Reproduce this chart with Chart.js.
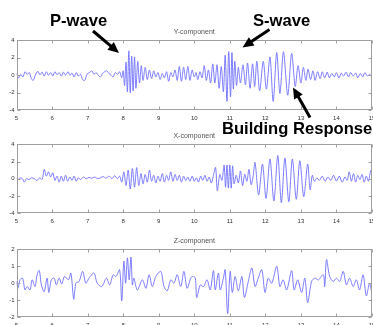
<!DOCTYPE html>
<html>
<head>
<meta charset="utf-8">
<script src="https://cdn.jsdelivr.net/npm/chart.js@4.4.1/dist/chart.umd.min.js"></script>
<style>
  html, body { margin: 0; padding: 0; overflow: hidden; background: #fff; }
  #wrap { position: relative; width: 373px; height: 325px; overflow: hidden; }
  #wrap canvas { position: absolute; left: 0; }
  #notes { position: absolute; left: 0; top: 0; }
</style>
</head>
<body>
<div id="wrap">
  <canvas id="cY" width="373" height="124" style="top:0"></canvas>
  <canvas id="cX" width="373" height="103" style="top:124px"></canvas>
  <canvas id="cZ" width="373" height="104" style="top:227px"></canvas>
  <svg id="notes" width="373" height="325"></svg>
</div>
<script>
// ---- data (time in s, amplitude) ----
const timeTicks = [5, 6, 7, 8, 9, 10, 11, 12, 13, 14, 15];
const ampTicks  = [-4, -2, 0, 2, 4];
const zTicks    = [-2, -1, 0, 1, 2];
const titles    = ['Y-component', 'X-component', 'Z-component'];

const tY = [5.00,5.06,5.12,5.18,5.24,5.30,5.36,5.42,5.47,5.53,5.60,5.66,5.72,5.78,5.84,5.90,5.96,6.02,6.08,6.14,
  6.20,6.26,6.32,6.38,6.45,6.50,6.56,6.62,6.68,6.74,6.80,6.86,6.92,6.98,7.05,7.12,7.18,7.24,7.30,7.36,
  7.42,7.48,7.54,7.60,7.66,7.72,7.78,7.84,7.90,7.96,8.00,8.04,8.08,8.12,8.16,8.20,8.24,8.28,8.32,8.36,
  8.41,8.46,8.51,8.56,8.62,8.68,8.74,8.80,8.86,8.92,8.98,9.04,9.10,9.16,9.22,9.28,9.34,9.40,9.46,9.52,
  9.58,9.64,9.70,9.76,9.82,9.88,9.94,10.00,10.05,10.10,10.16,10.22,10.28,10.34,10.40,10.46,10.52,10.58,10.64,10.70,
  10.76,10.82,10.87,10.92,10.97,11.02,11.06,11.10,11.14,11.19,11.24,11.30,11.37,11.44,11.50,11.57,11.64,11.70,11.76,11.84,
  11.94,12.03,12.13,12.22,12.32,12.41,12.51,12.63,12.74,12.84,12.92,13.00,13.07,13.14,13.20,13.27,13.34,13.40,13.47,13.54,
  13.60,13.67,13.74,13.80,13.87,13.94,14.00,14.07,14.14,14.20,14.27,14.34,14.40,14.47,14.54,14.60,14.67,14.74,14.80,14.87,
  14.94,15.00];
const vY = [0.2,-0.3,0.1,-0.2,0.4,0.1,0.3,-0.4,-0.6,0.0,0.45,0.05,0.35,-0.1,0.4,0.0,0.3,-0.1,0.4,0.05,
  0.3,-0.1,0.35,0.0,0.4,0.0,0.25,-0.2,0.3,-0.1,0.1,-0.5,-0.6,0.1,0.3,0.5,0.1,0.3,0.0,-0.2,
  0.2,0.4,0.5,0.2,0.0,-0.2,0.3,0.1,0.4,-0.3,0.5,-1.2,1.5,-1.9,2.8,-2.0,2.2,-1.8,2.1,-1.5,
  1.6,-0.9,1.1,-0.6,0.9,-0.5,0.6,-0.4,0.5,-0.2,0.3,-0.5,0.2,-0.3,0.4,-0.7,0.3,-0.2,0.6,-0.6,
  1.0,-0.7,0.9,-0.5,1.0,-0.6,0.6,-0.2,0.3,-0.5,0.4,-0.3,1.1,-0.6,0.6,-0.9,1.3,-0.9,1.2,-1.5,
  1.0,-1.9,2.3,-3.0,2.7,-2.5,2.6,-1.6,1.6,-1.2,0.9,-0.9,1.2,-1.1,1.4,-1.5,1.3,-1.3,1.6,-1.8,
  1.6,-1.6,2.1,-3.0,2.6,-2.1,2.7,-2.3,2.5,-1.3,1.1,-0.9,0.9,-0.6,0.7,-0.5,0.5,-0.6,0.4,-0.4,
  0.4,-0.3,0.35,-0.3,0.2,-0.2,0.3,-0.3,0.25,-0.1,0.35,-0.2,0.3,-0.1,0.25,-0.3,0.2,-0.2,0.3,-0.1,
  0.1,-0.3];

const tX = [5.00,5.05,5.10,5.17,5.22,5.28,5.35,5.42,5.50,5.58,5.65,5.72,5.78,5.84,5.90,5.96,6.02,6.08,6.14,6.20,
  6.26,6.32,6.38,6.44,6.50,6.56,6.62,6.68,6.74,6.80,6.88,6.96,7.04,7.12,7.20,7.28,7.36,7.44,7.52,7.60,
  7.68,7.76,7.84,7.90,7.96,8.02,8.08,8.14,8.20,8.26,8.32,8.38,8.44,8.50,8.56,8.62,8.68,8.74,8.80,8.86,
  8.92,8.98,9.04,9.10,9.16,9.22,9.28,9.34,9.40,9.46,9.52,9.58,9.64,9.70,9.76,9.82,9.88,9.94,10.00,10.06,
  10.12,10.18,10.24,10.30,10.36,10.42,10.48,10.54,10.60,10.65,10.72,10.78,10.84,10.88,10.92,10.96,11.00,11.04,11.08,11.12,
  11.18,11.24,11.30,11.36,11.42,11.48,11.54,11.60,11.66,11.71,11.81,11.92,12.02,12.13,12.24,12.35,12.45,12.55,12.66,12.76,
  12.87,12.97,13.08,13.19,13.26,13.32,13.38,13.45,13.52,13.60,13.68,13.76,13.84,13.92,14.00,14.08,14.16,14.24,14.30,14.36,
  14.42,14.48,14.54,14.60,14.66,14.72,14.78,14.84,14.90,14.96,15.00];
const vX = [0.1,-0.1,0.1,0.0,-0.4,0.0,-0.1,0.1,0.0,-0.2,0.1,-0.1,1.1,0.3,0.8,0.2,0.7,-0.2,0.3,-0.4,
  0.3,-0.3,0.4,-0.3,0.2,-0.2,0.3,-0.3,0.1,-0.1,0.2,0.0,0.15,0.05,0.2,0.0,0.1,0.25,0.05,0.3,
  0.0,0.35,0.0,0.3,-0.4,0.8,-0.8,1.0,-1.2,1.2,-1.0,1.3,-0.8,0.6,-0.6,0.5,-0.4,1.0,-0.3,0.4,
  -0.5,0.3,-0.3,0.6,-0.4,0.4,-0.2,0.8,-0.3,0.5,-0.2,0.4,-0.4,0.3,-0.2,0.2,-0.3,0.3,-0.3,0.1,
  -0.4,0.3,-0.2,0.4,-0.3,0.2,-0.5,0.4,1.3,-1.4,0.5,-0.2,1.6,-1.0,1.6,-1.1,1.6,-1.1,1.5,-0.6,
  0.4,-0.5,0.9,-0.8,0.5,-0.3,1.1,-0.7,0.4,1.9,-1.9,1.7,-2.3,2.3,-2.6,2.7,-2.8,2.4,-2.7,2.3,
  -2.4,2.1,-2.1,1.7,-1.3,0.4,-0.3,0.1,-0.2,0.3,-0.3,0.2,-0.2,0.4,-0.3,0.3,-0.4,0.2,-0.2,0.8,
  -0.3,0.6,-0.4,0.4,-0.1,0.5,-0.4,0.3,-0.3,0.9,1.1];

const tZ = [5.00,5.04,5.10,5.17,5.24,5.30,5.38,5.44,5.52,5.58,5.64,5.70,5.78,5.86,5.91,5.98,6.06,6.12,6.20,6.27,
  6.35,6.46,6.53,6.61,6.67,6.76,6.86,6.95,7.04,7.18,7.27,7.40,7.53,7.62,7.72,7.80,7.90,7.96,8.02,8.07,
  8.12,8.17,8.22,8.26,8.30,8.40,8.54,8.64,8.73,8.82,8.92,9.06,9.15,9.24,9.34,9.43,9.52,9.62,9.71,9.80,
  9.90,9.96,10.03,10.07,10.17,10.26,10.36,10.45,10.54,10.59,10.68,10.73,10.82,10.87,10.94,11.01,11.07,11.15,11.24,11.34,
  11.41,11.52,11.62,11.71,11.80,11.90,11.99,12.08,12.18,12.32,12.41,12.50,12.60,12.74,12.81,12.91,13.02,13.11,13.19,13.30,
  13.39,13.49,13.63,13.67,13.72,13.81,13.91,14.00,14.09,14.19,14.28,14.37,14.47,14.56,14.65,14.75,14.84,14.93,15.00];
const vZ = [0.1,-0.3,0.2,0.3,-0.4,-0.2,-0.4,0.2,-0.2,0.5,0.75,-0.1,-0.5,0.3,-0.55,0.2,0.3,-0.1,0.3,-0.05,
  0.4,0.2,0.6,-0.95,0.0,0.1,0.7,0.0,0.3,0.6,0.0,-0.2,0.3,-0.1,0.5,0.4,0.8,-1.05,1.3,0.0,
  1.5,0.2,1.55,-0.1,0.3,-0.4,0.2,-0.3,0.5,-0.2,0.4,0.7,-0.2,-0.45,0.2,0.0,0.5,-0.2,0.7,-0.3,
  0.3,0.4,0.3,-0.85,-0.1,-0.2,0.2,-0.4,0.75,-0.4,0.6,-0.4,0.3,0.8,-1.8,0.7,-0.55,0.4,-0.45,0.4,
  -0.85,0.1,0.9,-0.2,0.3,0.8,-0.55,0.3,0.0,1.0,-0.2,0.2,-0.4,0.75,-0.4,0.2,-0.55,0.3,-1.15,0.1,
  0.3,0.2,0.5,-0.2,1.4,0.4,0.1,0.3,0.1,0.7,-0.1,0.3,-0.2,0.2,-0.4,0.5,-0.75,0.0,-0.65];

// ---- MATLAB-style box with inward ticks ----
const matlabBox = {
  id: 'matlabBox',
  afterDraw(chart) {
    const { ctx, chartArea: a, scales: { x, y } } = chart;
    ctx.save();
    ctx.strokeStyle = '#a0a0a0';
    ctx.lineWidth = 1;
    const L = Math.round(a.left) + 0.5, R = Math.round(a.right) - 0.5;
    const T = Math.round(a.top) + 0.5, B = Math.round(a.bottom) - 0.5;
    ctx.strokeRect(L, T, R - L, B - T);
    ctx.beginPath();
    x.ticks.forEach(t => {
      const px = Math.round(x.getPixelForValue(t.value)) + 0.5;
      ctx.moveTo(px, T); ctx.lineTo(px, T + 3);
      ctx.moveTo(px, B); ctx.lineTo(px, B - 3);
    });
    y.ticks.forEach(t => {
      const py = Math.round(y.getPixelForValue(t.value)) + 0.5;
      ctx.moveTo(L, py); ctx.lineTo(L + 3, py);
      ctx.moveTo(R, py); ctx.lineTo(R - 3, py);
    });
    ctx.stroke();
    ctx.restore();
  }
};

const FONT = "'Liberation Sans', Arial, sans-serif";

function makeChart(id, title, times, values, yTicks, padTop) {
  const pts = times.map((t, i) => ({ x: t, y: values[i] }));
  return new Chart(document.getElementById(id), {
    type: 'line',
    data: {
      datasets: [{
        data: pts,
        borderColor: '#6e6eff',
        borderWidth: 0.9,
        pointRadius: 0,
        tension: 0.3,
        fill: false
      }]
    },
    options: {
      responsive: false,
      animation: false,
      events: [],
      layout: { padding: { top: padTop, right: 1, left: 0, bottom: 0 } },
      plugins: {
        legend: { display: false },
        tooltip: { enabled: false },
        title: {
          display: true,
          text: title,
          fullSize: false,
          color: '#555',
          font: { family: FONT, size: 7, weight: 'normal' },
          padding: { top: 0, bottom: 4 }
        }
      },
      scales: {
        x: {
          type: 'linear',
          min: timeTicks[0],
          max: timeTicks[timeTicks.length - 1],
          afterBuildTicks: s => { s.ticks = timeTicks.map(v => ({ value: v })); },
          afterFit: s => { s.height = 14; s.paddingLeft = 0; s.paddingRight = 0; },
          ticks: { color: '#333', font: { family: FONT, size: 6 }, padding: 4.5, maxRotation: 0, autoSkip: false },
          grid: { display: false, drawTicks: false },
          border: { display: false }
        },
        y: {
          min: yTicks[0],
          max: yTicks[yTicks.length - 1],
          afterBuildTicks: s => { s.ticks = yTicks.map(v => ({ value: v })); },
          afterFit: s => { s.width = 16.5; s.paddingTop = 0; s.paddingBottom = 0; },
          ticks: { color: '#333', font: { family: FONT, size: 6 }, padding: 2, autoSkip: false },
          grid: { display: false, drawTicks: false },
          border: { display: false }
        }
      }
    },
    plugins: [matlabBox]
  });
}

makeChart('cY', titles[0], tY, vY, ampTicks, 28);
makeChart('cX', titles[1], tX, vX, ampTicks, 8);
makeChart('cZ', titles[2], tZ, vZ, zTicks, 10);

// ---- annotations ----
const svg = document.getElementById('notes');
const NS = 'http://www.w3.org/2000/svg';

function label(txt, x, y) {
  const t = document.createElementNS(NS, 'text');
  t.setAttribute('x', x);
  t.setAttribute('y', y);
  t.setAttribute('font-family', FONT);
  t.setAttribute('font-weight', 'bold');
  t.setAttribute('font-size', '16.6');
  t.setAttribute('fill', '#000');
  t.textContent = txt;
  svg.appendChild(t);
}

function arrow(x1, y1, x2, y2) {
  const dx = x2 - x1, dy = y2 - y1, len = Math.hypot(dx, dy);
  const ux = dx / len, uy = dy / len, hl = 11, hw = 5;
  const bx = x2 - ux * hl, by = y2 - uy * hl;
  const ln = document.createElementNS(NS, 'line');
  ln.setAttribute('x1', x1); ln.setAttribute('y1', y1);
  ln.setAttribute('x2', bx + ux * 2); ln.setAttribute('y2', by + uy * 2);
  ln.setAttribute('stroke', '#000'); ln.setAttribute('stroke-width', 3);
  svg.appendChild(ln);
  const p = document.createElementNS(NS, 'polygon');
  p.setAttribute('points', [
    [x2, y2],
    [bx - uy * hw, by + ux * hw],
    [bx + uy * hw, by - ux * hw]
  ].map(q => q.join(',')).join(' '));
  p.setAttribute('fill', '#000');
  svg.appendChild(p);
}

label('P-wave', 50, 26);
label('S-wave', 253, 26);
label('Building Response', 222, 134);
arrow(93, 31, 119, 53);
arrow(269.5, 29.5, 242.5, 47.5);
arrow(310, 117.5, 293, 87.5);
</script>
</body>
</html>
